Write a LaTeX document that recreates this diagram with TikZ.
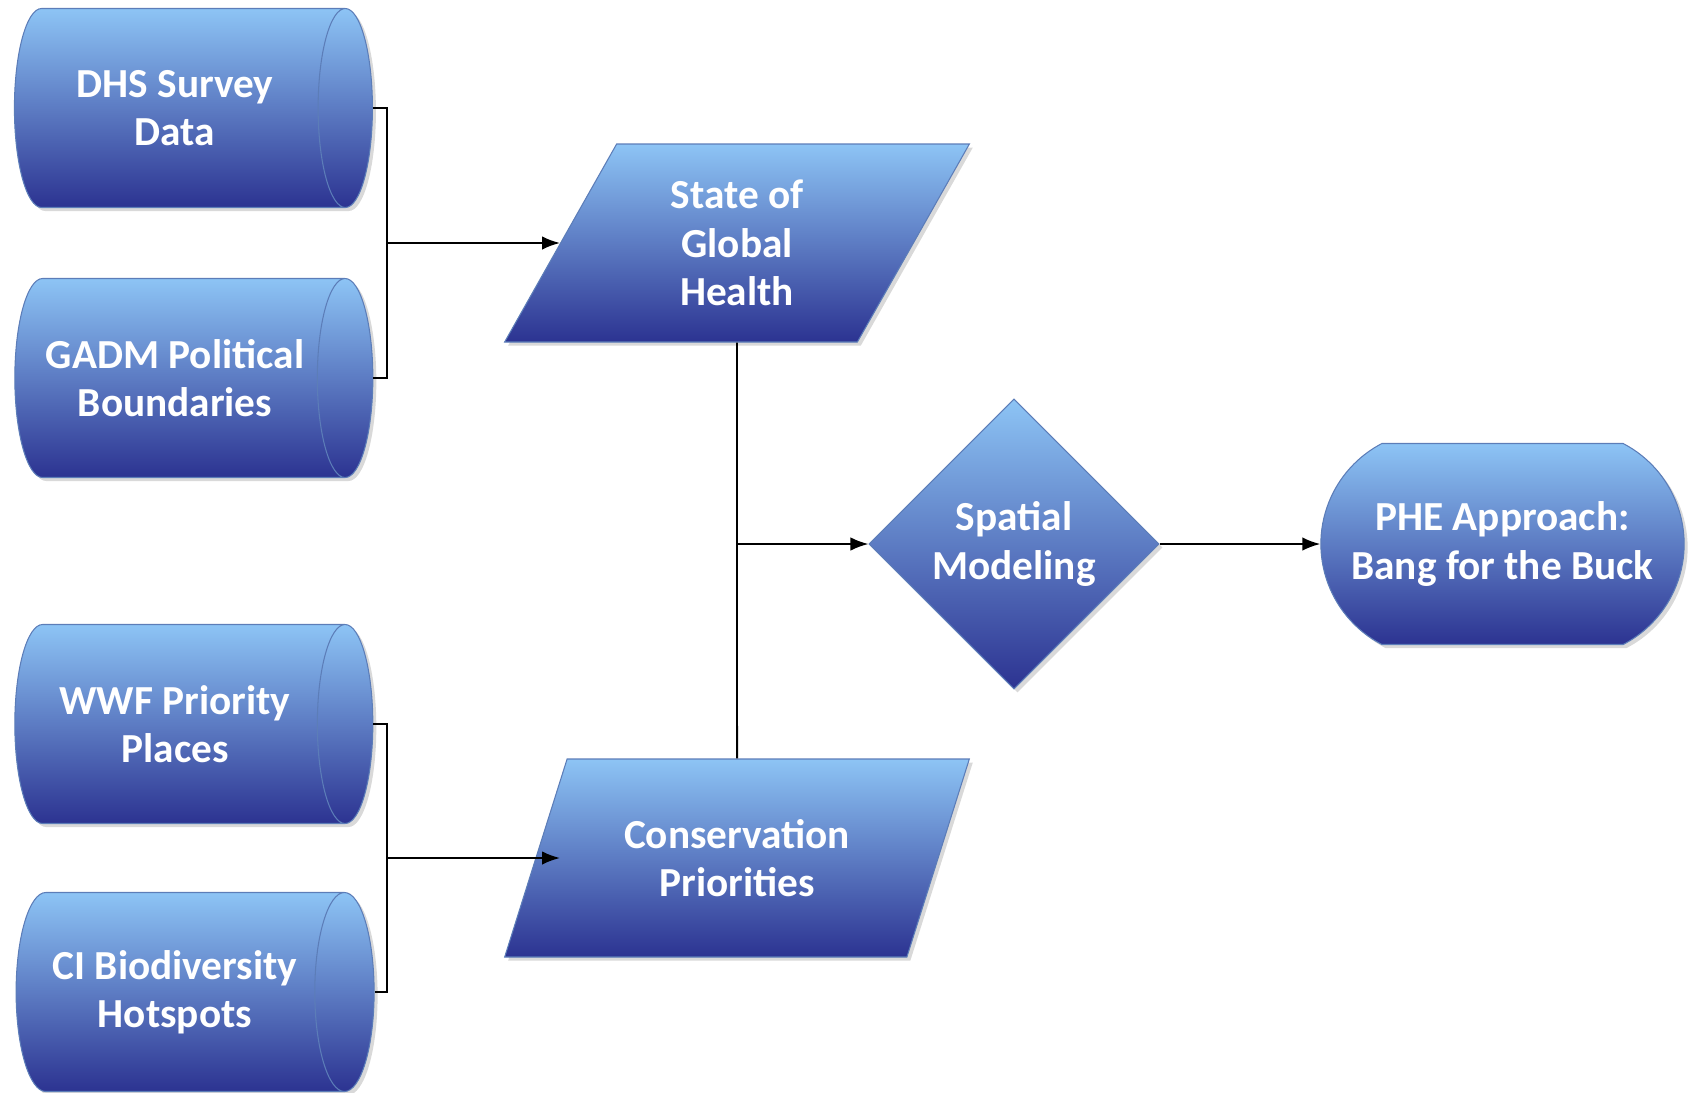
\documentclass[tikz,border=0pt]{standalone}
\usepackage{fontspec}
\setmainfont{Carlito}
\usetikzlibrary{shapes.geometric}
\usetikzlibrary{shapes.misc}
\usetikzlibrary{shadows}
\usetikzlibrary{arrows.meta}
\definecolor{boxtop}{HTML}{8DC4F5}
\definecolor{boxbottom}{HTML}{2C3391}
\definecolor{boxline}{HTML}{5C7DB8}
\tikzstyle{box}=[draw=boxline, line width=0.6pt, top color=boxtop, bottom color=boxbottom,
  text=white, font=\bfseries\fontsize{23.5}{27.6}\selectfont, align=center,
  drop shadow={shadow xshift=0.07cm, shadow yshift=-0.07cm, opacity=0.3}]
\tikzstyle{datasource}=[box, cylinder, shape aspect=0.62, minimum width=3.98cm, minimum height=7.16cm]
\tikzstyle{dataset}=[box, trapezium, trapezium left angle=64, trapezium right angle=116,
  trapezium stretches=true, minimum width=9.3cm, minimum height=3.96cm]
\tikzstyle{decision}=[box, diamond, minimum width=5.8cm, minimum height=5.8cm]
\tikzstyle{result}=[box, rounded rectangle, rounded rectangle arc length=125,
  minimum width=7.5cm, minimum height=4.02cm]
\tikzstyle{link}=[line width=1.1pt, -{Latex[length=0.36cm, width=0.27cm]}]

\begin{document}
\begin{tikzpicture}
    \useasboundingbox (0,0) rectangle (33.8,-21.84);
    % inputs
    \node[datasource] (dhs) at (3.5,-2.16) {DHS Survey\\Data};
    \node[datasource] (gadm) at (3.5,-7.56) {GADM Political\\Boundaries};
    \node[datasource] (wwf) at (3.5,-14.48) {WWF Priority\\Places};
    \node[datasource] (ci) at (3.5,-19.84) {CI Biodiversity\\Hotspots};
    % intermediate layers
    \node[dataset] (health) at (14.74,-4.86) {State of\\Global\\Health};
    \node[dataset] (conserv) at (14.74,-17.16) {Conservation\\Priorities};
    \node[decision] (model) at (20.28,-10.88) {Spatial\\Modeling};
    \node[result] (phe) at (30.05,-10.88) {PHE Approach:\\Bang for the Buck};
    % connectors
    \coordinate (top join) at (7.74,-4.86);
    \coordinate (bottom join) at (7.74,-17.16);
    \draw[line width=1.1pt] (dhs.east) -| (top join) |- (gadm.east);
    \draw[line width=1.1pt] (wwf.east) -| (bottom join) |- (ci.east);
    \draw[link] (top join) -- (health.west);
    \draw[link] (bottom join) -- (bottom join -| health.west);
    \draw[line width=1.1pt] (health.south) -- (conserv.north);
    \draw[link] (health.south |- model.west) -- (model.west);
    \draw[link] (model.east) -- (phe.west);
\end{tikzpicture}
\end{document}
